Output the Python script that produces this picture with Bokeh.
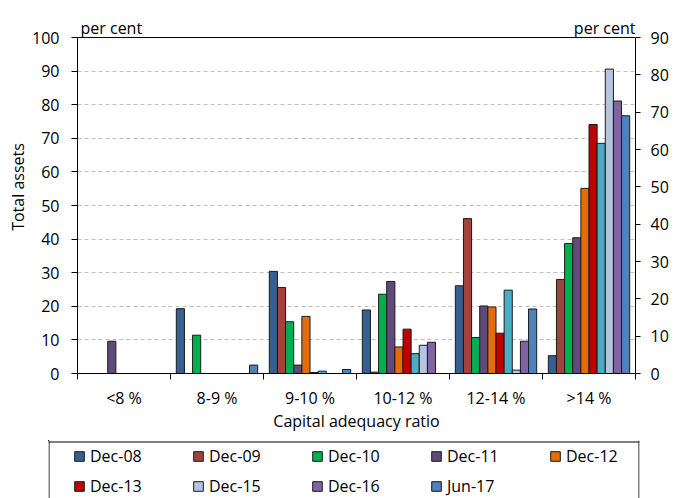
from bokeh.plotting import figure
from bokeh.layouts import column
from bokeh.models import (Range1d, LinearAxis, FixedTicker, Legend, LegendItem,
                          Label, Span, ColumnDataSource)
from bokeh.embed import file_html
from bokeh.resources import INLINE

# ---------------- data ----------------
categories = ["<8 %", "8-9 %", "9-10 %", "10-12 %", "12-14 %", ">14 %"]
series = ["Dec-08", "Dec-09", "Dec-10", "Dec-11", "Dec-12",
          "Dec-13", "Dec-14", "Dec-15", "Dec-16", "Jun-17"]
dec08 = [0.0, 19.3, 30.4, 18.9, 26.1, 5.3]
dec09 = [0.0, 0.0, 25.6, 0.4, 46.1, 28.0]
dec10 = [0.0, 11.4, 15.4, 23.6, 10.7, 38.7]
dec11 = [9.6, 0.0, 2.5, 27.4, 20.1, 40.4]
dec12 = [0.0, 0.0, 17.0, 7.9, 19.8, 55.1]
dec13 = [0.0, 0.0, 0.3, 13.2, 12.0, 74.1]
dec14 = [0.0, 0.0, 0.7, 5.9, 24.8, 68.5]
dec15 = [0.0, 0.0, 0.0, 8.4, 1.0, 90.6]
dec16 = [0.0, 0.0, 0.0, 9.3, 9.6, 81.1]
jun17 = [0.0, 2.5, 1.2, 0.0, 19.2, 76.7]
values = [dec08, dec09, dec10, dec11, dec12, dec13, dec14, dec15, dec16, jun17]
in_legend = [True, True, True, True, True, True, False, True, True, True]
left_ticks = list(range(0, 101, 10))
right_ticks = list(range(0, 91, 10))
left_max, right_max = 100, 90

# ---------------- styles / layout ----------------
colors = ["#366092", "#a5403b", "#00b050", "#604a7b", "#e46c0a",
          "#c00000", "#4bacc6", "#b4c4e2", "#8064a2", "#4f81bd"]
FONT = "Open Sans"
FS = "16px"

W = 677
H_MAIN, H_LEG = 440, 58
FL, FR, FB = 77, 635, 373      # frame left / right / bottom (px)
TOP100 = 37                    # pixel row of the 100 line
y_end = left_max * FB / (FB - TOP100)

p = figure(width=W, height=H_MAIN, output_backend="svg", toolbar_location=None,
           x_range=Range1d(0.5, 6.5), y_range=Range1d(0, y_end),
           min_border_left=FL, min_border_right=W - FR,
           min_border_top=0, min_border_bottom=H_MAIN - FB)
p.frame_align = False
p.outline_line_color = None
p.background_fill_color = "white"
p.border_fill_color = "white"

# bars
n = len(series)
bar_w = 0.0875
renderers = []
sources = []
for j, (name, vals, col) in enumerate(zip(series, values, colors)):
    xs = [i + 1 + (j - (n - 1) / 2) * bar_w for i in range(len(categories))]
    src = ColumnDataSource(dict(x=xs, top=vals))
    sources.append(src)
    r = p.vbar(x="x", top="top", bottom=0, width=bar_w, source=src,
               fill_color=col, line_color="#1a1a1a", line_width=1)
    renderers.append(r)

# top border of the plot area
p.add_layout(Span(location=left_max, dimension="width",
                  line_color="black", line_width=1))

# x axis
xa = p.xaxis[0]
xa.ticker = FixedTicker(ticks=[i + 1 for i in range(len(categories))],
                        minor_ticks=[k + 0.5 for k in range(len(categories) + 1)])
xa.major_label_overrides = {i + 1: c for i, c in enumerate(categories)}
xa.major_tick_out = 0
xa.major_tick_in = 0
xa.major_tick_line_color = None
xa.minor_tick_out = 6
xa.minor_tick_in = 0
xa.minor_tick_line_color = "black"
xa.axis_line_color = "black"
xa.major_label_standoff = 7
xa.major_label_text_font = FONT
xa.major_label_text_font_size = FS
xa.major_label_text_color = "black"
xa.axis_label = "Capital adequacy ratio"
xa.axis_label_text_font = FONT
xa.axis_label_text_font_size = FS
xa.axis_label_text_font_style = "normal"
xa.axis_label_text_color = "black"
xa.axis_label_standoff = -2

# left y axis
ya = p.yaxis[0]
ya.ticker = FixedTicker(ticks=left_ticks)
ya.bounds = (0, left_max)
ya.major_tick_out = 6
ya.major_tick_in = 0
ya.minor_tick_line_color = None
ya.major_tick_line_color = "black"
ya.axis_line_color = "black"
ya.major_label_standoff = 12
ya.major_label_text_font = FONT
ya.major_label_text_font_size = FS
ya.major_label_text_color = "black"
ya.axis_label = "Total assets"
ya.axis_label_text_font = FONT
ya.axis_label_text_font_size = FS
ya.axis_label_text_font_style = "normal"
ya.axis_label_text_color = "black"
ya.axis_label_standoff = 0

# right y axis
p.extra_y_ranges = {"right": Range1d(0, right_max * y_end / left_max)}
ra = LinearAxis(y_range_name="right", ticker=FixedTicker(ticks=right_ticks),
                bounds=(0, right_max))
ra.major_tick_out = 5
ra.major_tick_in = 0
ra.minor_tick_line_color = None
ra.major_tick_line_color = "black"
ra.axis_line_color = "black"
ra.major_label_standoff = 10
ra.major_label_text_font = FONT
ra.major_label_text_font_size = FS
ra.major_label_text_color = "black"
p.add_layout(ra, "right")

# grid
p.xgrid.visible = False
p.ygrid.ticker = FixedTicker(ticks=left_ticks[1:-1])
p.ygrid.grid_line_color = "#c0c0c0"
p.ygrid.grid_line_dash = "4 3"
p.ygrid.grid_line_width = 1

# "per cent" unit labels
p.add_layout(Label(x=0.5, y=left_max, x_offset=3, y_offset=10, text="per cent",
                   text_align="left", text_baseline="alphabetic",
                   text_font=FONT, text_font_size=FS, text_color="black"))
p.add_layout(Label(x=6.5, y=left_max, x_offset=0, y_offset=10, text="per cent",
                   text_align="right", text_baseline="alphabetic",
                   text_font=FONT, text_font_size=FS, text_color="black"))

# ---------------- legend panel ----------------
BOX_L, BOX_R, BOX_T = 48, 639, 441
q = figure(width=W, height=H_LEG, output_backend="svg", toolbar_location=None,
           x_range=Range1d(BOX_L, BOX_R), y_range=Range1d(H_MAIN + H_LEG, H_MAIN),
           x_axis_location=None, y_axis_location=None,
           min_border_left=BOX_L, min_border_right=W - BOX_R,
           min_border_top=0, min_border_bottom=0)
q.frame_align = False
q.outline_line_color = None
q.xgrid.visible = False
q.ygrid.visible = False
q.background_fill_color = "white"
q.border_fill_color = "white"
q.add_layout(Span(location=BOX_T + 0.5, dimension="width", line_color="black", line_width=1))
q.add_layout(Span(location=BOX_L + 0.5, dimension="height", line_color="black", line_width=1))
q.add_layout(Span(location=BOX_R - 0.5, dimension="height", line_color="black", line_width=1))

# legend swatches: same series sources (their bars fall outside this panel's ranges)
leg_renderers = []
for src, col in zip(sources, colors):
    r = q.vbar(x="x", top="top", bottom=0, width=bar_w, source=src,
               fill_color=col, line_color="#1a1a1a", line_width=1)
    leg_renderers.append(r)
items = [LegendItem(label=s, renderers=[r])
         for s, r, show in zip(series, leg_renderers, in_legend) if show]

spacing = 6
item_h = 24
leg_h = 2 * item_h + spacing
row1_center = 456
leg_top = row1_center - item_h / 2
first_square = 74
legend = Legend(items=items, orientation="horizontal", ncols=5,
                location=(first_square - 1 - BOX_L, (H_MAIN + H_LEG) - leg_top - leg_h),
                padding=0, margin=0, spacing=spacing,
                glyph_width=12, glyph_height=12, label_standoff=5,
                label_width=96, label_height=item_h,
                label_text_font=FONT, label_text_font_size=FS,
                label_text_color="black",
                border_line_alpha=0, background_fill_alpha=0)
q.add_layout(legend)

layout = column(p, q, spacing=0)
open("out.html", "w").write(file_html(layout, INLINE))
